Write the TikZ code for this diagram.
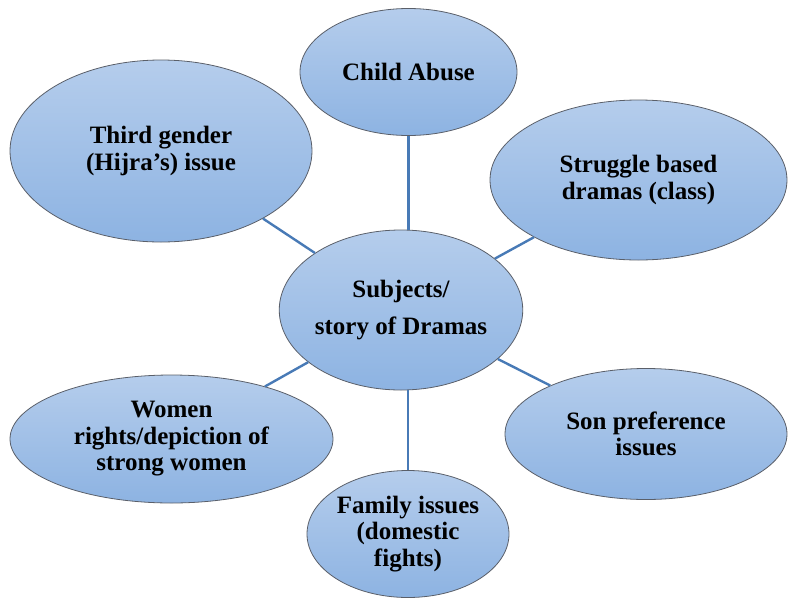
\documentclass[tikz,border=0pt]{standalone}
\usepackage{fontspec}
\setmainfont{Liberation Serif}[BoldFont={Liberation Serif Bold}]
\newfontfamily\labelfont{Liberation Serif Bold}
\usetikzlibrary{shapes.geometric}
\definecolor{bubbletop}{RGB}{181,205,236}
\definecolor{bubblebottom}{RGB}{141,179,226}
\definecolor{bubbleedge}{RGB}{90,95,105}
\definecolor{linkblue}{RGB}{72,122,182}
\tikzset{
  bubble/.style={ellipse, draw=bubbleedge, line width=0.8pt,
    top color=bubbletop, bottom color=bubblebottom,
    inner sep=0pt, align=center,
    font=\labelfont\fontsize{25}{26.5}\selectfont},
  link/.style={draw=linkblue, line width=2.4pt}
}
\begin{document}
\begin{tikzpicture}[x=1pt, y=-1pt]
\useasboundingbox (0,0) rectangle (788,598);
% central topic
\node[bubble, minimum width=238pt, minimum height=160pt] (hub) at (401,310)
  {Subjects/\\[10pt]story of Dramas};
% surrounding subjects
\node[bubble, minimum width=217pt, minimum height=127pt] (child) at (408.5,72)
  {Child Abuse};
\node[bubble, minimum width=302pt, minimum height=182pt] (third) at (161,151)
  {Third gender\\(Hijra’s) issue};
\node[bubble, minimum width=297pt, minimum height=160pt] (struggle) at (638.5,180)
  {Struggle based\\dramas (class)};
\node[bubble, minimum width=282pt, minimum height=131pt] (son) at (646,434)
  {Son preference\\issues};
\node[bubble, minimum width=323pt, minimum height=128pt] (women) at (171.5,439)
  {Women\\rights/depiction of\\strong women};
\node[bubble, minimum width=202pt, minimum height=127pt] (family) at (408,534)
  {Family issues\\(domestic\\fights)};
% connectors
\draw[link] (child.south) -- (child.south |- hub.north);
\draw[link] (family.north) -- (family.north |- hub.south);
\draw[link] (third) -- (hub);
\draw[link] (struggle) -- (hub);
\draw[link] (son) -- (hub);
\draw[link] (women) -- (hub);
\end{tikzpicture}
\end{document}
